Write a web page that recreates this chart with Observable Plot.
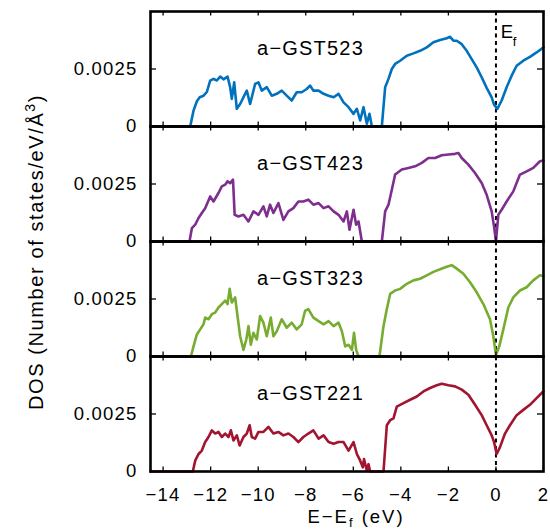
<!DOCTYPE html>
<html><head><meta charset="utf-8">
<script src="https://cdn.jsdelivr.net/npm/d3@7"></script>
<script src="https://cdn.jsdelivr.net/npm/@observablehq/plot@0.6"></script>
<style>body{margin:0;background:#fff}</style>
</head><body><div id="chart"></div>
<script>
const samples = ["a−GST523", "a−GST423", "a−GST323", "a−GST221"];
const colors = ["#0072BD", "#7E2F8E", "#77AC30", "#A2142F"];
const xTicks = [-14, -12, -10, -8, -6, -4, -2, 0, 2];
const yTicks = [0, 0.0025];

// [E - Ef (eV), DOS (states/eV/Å^3)]
const dos523 = [[-14.53,0],[-12.86,0],[-12.72,0.00069],[-12.58,0.00110],[-12.46,0.00127],[-12.30,0.00134],[-12.16,0.00150],[-12.02,0.00199],[-11.88,0.00207],[-11.74,0.00200],[-11.60,0.00217],[-11.46,0.00205],[-11.29,0.00217],[-11.18,0.00171],[-11.11,0.00120],[-11.01,0.00192],[-10.90,0.00077],[-10.76,0.00098],[-10.62,0.00127],[-10.48,0.00156],[-10.34,0.00098],[-10.13,0.00185],[-9.99,0.00192],[-9.85,0.00156],[-9.64,0.00171],[-9.43,0.00134],[-9.22,0.00142],[-9.01,0.00156],[-8.80,0.00134],[-8.59,0.00113],[-8.38,0.00149],[-8.17,0.00149],[-7.96,0.00163],[-7.82,0.00178],[-7.68,0.00156],[-7.46,0.00156],[-7.25,0.00142],[-7.04,0.00134],[-6.83,0.00127],[-6.62,0.00142],[-6.41,0.00105],[-6.20,0.00084],[-5.99,0.00055],[-5.85,0.00077],[-5.71,0.00026],[-5.57,0.00084],[-5.43,0.00012],[-5.32,0.00055],[-5.22,0],[-4.80,0],[-4.66,0.00171],[-4.52,0.00207],[-4.38,0.00250],[-4.24,0.00272],[-4.03,0.00286],[-3.75,0.00308],[-3.47,0.00318],[-3.19,0.00329],[-2.91,0.00344],[-2.63,0.00366],[-2.35,0.00376],[-2.07,0.00384],[-1.93,0.00390],[-1.79,0.00373],[-1.65,0.00373],[-1.44,0.00358],[-1.23,0.00329],[-1.02,0.00293],[-0.81,0.00257],[-0.60,0.00214],[-0.39,0.00168],[-0.18,0.00127],[-0.08,0.00095],[0.06,0.00077],[0.24,0.00113],[0.45,0.00171],[0.66,0.00221],[0.87,0.00264],[1.15,0.00286],[1.43,0.00303],[1.71,0.00322],[2.0,0.00344]];

const dos423 = [[-14.53,0],[-12.89,0],[-12.79,0.00058],[-12.65,0.00073],[-12.51,0.00102],[-12.37,0.00124],[-12.23,0.00145],[-12.02,0.00196],[-11.88,0.00174],[-11.67,0.00211],[-11.53,0.00240],[-11.39,0.00247],[-11.29,0.00262],[-11.18,0.00254],[-11.06,0.00269],[-10.99,0.00116],[-10.83,0.00109],[-10.62,0.00116],[-10.41,0.00087],[-10.20,0.00131],[-9.99,0.00116],[-9.78,0.00153],[-9.64,0.00109],[-9.50,0.00160],[-9.36,0.00124],[-9.15,0.00167],[-8.94,0.00094],[-8.73,0.00131],[-8.52,0.00145],[-8.31,0.00174],[-8.10,0.00174],[-7.89,0.00182],[-7.68,0.00160],[-7.46,0.00167],[-7.25,0.00145],[-7.04,0.00153],[-6.83,0.00131],[-6.62,0.00116],[-6.41,0.00087],[-6.27,0.00131],[-6.16,0.00051],[-5.99,0.00138],[-5.88,0.00073],[-5.78,0.00087],[-5.64,0],[-4.80,0],[-4.66,0.00131],[-4.52,0.00160],[-4.38,0.00225],[-4.24,0.00291],[-3.96,0.00313],[-3.68,0.00320],[-3.40,0.00327],[-3.12,0.00342],[-2.84,0.00363],[-2.56,0.00363],[-2.28,0.00375],[-2.00,0.00378],[-1.72,0.00381],[-1.58,0.00385],[-1.44,0.00363],[-1.16,0.00334],[-0.88,0.00298],[-0.60,0.00254],[-0.39,0.00203],[-0.18,0.00131],[-0.07,0.00058],[0,0],[0.10,0.00116],[0.24,0.00138],[0.45,0.00174],[0.73,0.00218],[1.01,0.00291],[1.29,0.00305],[1.57,0.00320],[1.85,0.00349],[2.0,0.00352]];

const dos323 = [[-14.53,0],[-12.83,0],[-12.72,0.00044],[-12.58,0.00096],[-12.44,0.00118],[-12.30,0.00140],[-12.23,0.00169],[-12.09,0.00162],[-11.95,0.00184],[-11.81,0.00191],[-11.67,0.00213],[-11.53,0.00228],[-11.39,0.00243],[-11.29,0.00228],[-11.20,0.00294],[-11.11,0.00235],[-10.97,0.00257],[-10.87,0.00176],[-10.76,0.00088],[-10.62,0.00029],[-10.50,0.00074],[-10.41,0.00132],[-10.31,0.00051],[-10.20,0.00103],[-10.06,0.00074],[-9.92,0.00176],[-9.78,0.00147],[-9.64,0.00088],[-9.47,0.00169],[-9.36,0.00088],[-9.22,0.00110],[-9.01,0.00162],[-8.80,0.00125],[-8.59,0.00147],[-8.38,0.00118],[-8.17,0.00140],[-8.03,0.00198],[-7.89,0.00206],[-7.68,0.00169],[-7.46,0.00154],[-7.25,0.00140],[-7.04,0.00154],[-6.83,0.00132],[-6.62,0.00147],[-6.48,0.00110],[-6.34,0.00044],[-6.20,0.00051],[-6.06,0.00029],[-5.97,0.00103],[-5.88,0.00029],[-5.78,0],[-4.90,0],[-4.73,0.00132],[-4.59,0.00206],[-4.45,0.00272],[-4.24,0.00287],[-4.03,0.00294],[-3.75,0.00316],[-3.47,0.00331],[-3.19,0.00338],[-2.91,0.00353],[-2.63,0.00368],[-2.35,0.00379],[-2.07,0.00390],[-1.86,0.00397],[-1.65,0.00382],[-1.37,0.00360],[-1.09,0.00323],[-0.81,0.00279],[-0.53,0.00228],[-0.25,0.00162],[-0.11,0.00088],[0,0.00007],[0.14,0.00044],[0.31,0.00118],[0.52,0.00213],[0.73,0.00257],[1.01,0.00287],[1.29,0.00301],[1.57,0.00331],[1.85,0.00353],[2.0,0.00350]];

const dos221 = [[-14.53,0],[-12.75,0],[-12.65,0.00047],[-12.51,0.00076],[-12.37,0.00091],[-12.23,0.00128],[-12.09,0.00150],[-11.95,0.00179],[-11.81,0.00165],[-11.67,0.00172],[-11.53,0.00150],[-11.39,0.00165],[-11.25,0.00150],[-11.15,0.00179],[-11.04,0.00135],[-10.90,0.00157],[-10.78,0.00113],[-10.62,0.00150],[-10.48,0.00165],[-10.36,0.00201],[-10.27,0.00150],[-10.13,0.00143],[-9.99,0.00172],[-9.78,0.00172],[-9.57,0.00194],[-9.36,0.00165],[-9.15,0.00172],[-8.94,0.00157],[-8.73,0.00165],[-8.52,0.00150],[-8.31,0.00128],[-8.10,0.00150],[-7.89,0.00165],[-7.68,0.00179],[-7.46,0.00143],[-7.25,0.00157],[-7.04,0.00128],[-6.83,0.00121],[-6.62,0.00128],[-6.41,0.00128],[-6.20,0.00091],[-5.99,0.00128],[-5.85,0.00076],[-5.71,0.00047],[-5.60,0.00018],[-5.55,0.00054],[-5.43,0.00003],[-5.36,0.00032],[-5.29,0],[-4.73,0],[-4.59,0.00201],[-4.45,0.00223],[-4.31,0.00231],[-4.17,0.00282],[-3.89,0.00297],[-3.61,0.00312],[-3.33,0.00326],[-3.05,0.00348],[-2.77,0.00363],[-2.49,0.00375],[-2.28,0.00382],[-2.00,0.00375],[-1.72,0.00370],[-1.44,0.00356],[-1.16,0.00334],[-0.88,0.00290],[-0.60,0.00245],[-0.39,0.00201],[-0.18,0.00157],[-0.08,0.00128],[0.03,0.00076],[0.17,0.00106],[0.38,0.00165],[0.59,0.00201],[0.87,0.00245],[1.15,0.00268],[1.43,0.00290],[1.71,0.00319],[1.99,0.00348]];

const series = [dos523, dos423, dos323, dos221];

const W = 550, H = 529, mL = 150, mR = 7, mT = 10, mB = 57;
const pw = W - mL - mR, ph = (H - mT - mB) / samples.length;
const minus = d => d < 0 ? "\u2212" + Math.abs(d) : String(d);

const lineMarks = series.map((s, i) =>
  Plot.line(s.map(([e, d]) => ({e, d, s: samples[i]})), {
    x: "e", y: "d", fy: "s", stroke: colors[i], strokeWidth: 2.6, strokeLinejoin: "round"
  })
);

const plot = Plot.plot({
  width: W, height: H,
  marginLeft: mL, marginRight: mR, marginTop: mT, marginBottom: mB,
  style: {fontFamily: "'Liberation Sans', Arial, sans-serif", fontSize: "18.5px", background: "white", color: "black", letterSpacing: "1.2px"},
  x: {domain: [-14.53, 2]},
  y: {domain: [0, 0.005]},
  fy: {domain: samples, padding: 0, axis: null},
  marks: [
    Plot.ruleX([0], {stroke: "black", strokeWidth: 2, strokeDasharray: "4,3.5"}),
    ...lineMarks,
    Plot.tickY(yTicks, {y: d => d, insetRight: pw - 6, stroke: "black", strokeWidth: 1.3}),
    Plot.tickY(yTicks, {y: d => d, insetLeft: pw - 6, stroke: "black", strokeWidth: 1.3}),
    Plot.tickX(xTicks, {x: d => d, insetBottom: ph - 5, stroke: "black", strokeWidth: 1.3}),
    Plot.tickX(xTicks, {x: d => d, insetTop: ph - 5, stroke: "black", strokeWidth: 1.3}),
    Plot.frame({stroke: "black", strokeWidth: 2.6}),
    Plot.axisX({ticks: xTicks, tickSize: 0, tickPadding: 16, tickFormat: minus, label: null}),
    Plot.axisY({ticks: yTicks, tickSize: 0, tickPadding: 13, tickFormat: d => d === 0 ? "0" : "0.0025", label: null}),
    Plot.text(samples, {x: () => -7.8, y: () => 0.0034, fy: d => d, text: d => d, fontSize: 20}),
    Plot.text(["E"], {x: () => 0.2, y: () => 0.00411, fy: () => samples[0], text: d => d, textAnchor: "start", fontSize: 18.5}),
    Plot.text(["f"], {x: () => 0.71, y: () => 0.00366, fy: () => samples[0], text: d => d, textAnchor: "start", fontSize: 13})
  ]
});

const svg = d3.select(plot);
const yl = svg.append("text")
  .attr("transform", "translate(43,252) rotate(-90)")
  .attr("text-anchor", "middle")
  .attr("fill", "black")
  .style("font-size", "20px").style("letter-spacing", "1.6px");
yl.append("tspan").text("DOS (Number of states/eV/Å");
yl.append("tspan").attr("dy", "-8").style("font-size", "14px").text("3");
yl.append("tspan").attr("dy", "8").text(")");

const xl = svg.append("text")
  .attr("x", 356).attr("y", 523)
  .attr("text-anchor", "middle")
  .attr("fill", "black")
  .style("font-size", "18.5px").style("letter-spacing", "2px");
xl.append("tspan").text("E\u2212E");
xl.append("tspan").attr("dy", "4").style("font-size", "13px").text("f");
xl.append("tspan").attr("dy", "-4").text(" (eV)");

document.getElementById("chart").appendChild(plot);
</script>
</body></html>
